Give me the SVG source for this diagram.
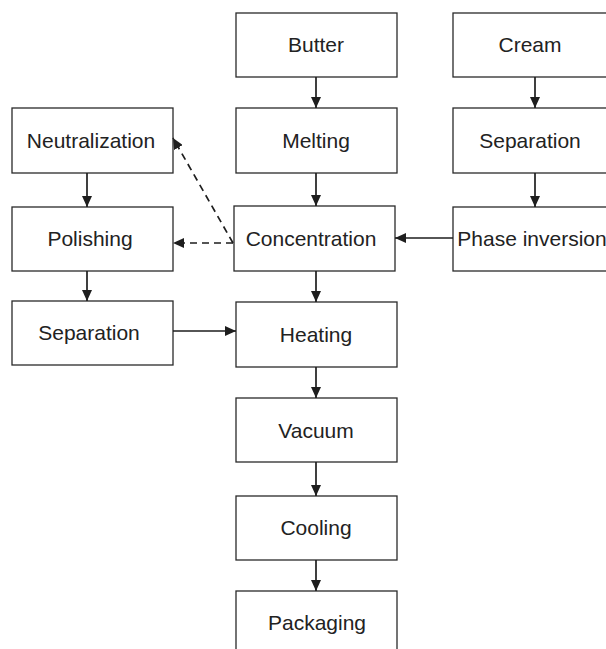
<svg xmlns="http://www.w3.org/2000/svg" width="606" height="649" viewBox="0 0 606 649">
  <defs>
    <style>
      .box { fill: #ffffff; stroke: #2a2a2a; stroke-width: 1.3; }
      .lbl { font-family: "Liberation Sans", Arial, sans-serif; font-size: 21px; fill: #222222; text-anchor: middle; }
      .flow { fill: none; stroke: #1e1e1e; stroke-width: 1.7; marker-end: url(#head); }
      .dash { stroke-dasharray: 7 5; }
    </style>
    <marker id="head" viewBox="0 0 11 10" refX="11" refY="5" markerWidth="11" markerHeight="10" markerUnits="userSpaceOnUse" orient="auto">
      <path d="M0,0 L11,5 L0,10 Z" fill="#1e1e1e"/>
    </marker>
  </defs>
  <rect width="606" height="649" fill="#ffffff"/>

  <!-- centre column -->
  <g id="butter"><rect class="box" x="236" y="13" width="161" height="64"/><text class="lbl" x="316" y="52">Butter</text></g>
  <g id="melting"><rect class="box" x="236" y="108" width="161" height="65"/><text class="lbl" x="316" y="148">Melting</text></g>
  <g id="concentration"><rect class="box" x="234" y="206" width="161" height="65"/><text class="lbl" x="311" y="246">Concentration</text></g>
  <g id="heating"><rect class="box" x="236" y="302" width="161" height="65"/><text class="lbl" x="316" y="342">Heating</text></g>
  <g id="vacuum"><rect class="box" x="236" y="398" width="161" height="64"/><text class="lbl" x="316" y="438">Vacuum</text></g>
  <g id="cooling"><rect class="box" x="236" y="496" width="161" height="64"/><text class="lbl" x="316" y="535">Cooling</text></g>
  <g id="packaging"><rect class="box" x="236" y="591" width="161" height="70"/><text class="lbl" x="317" y="630">Packaging</text></g>

  <!-- right column -->
  <g id="cream"><rect class="box" x="453" y="13" width="165" height="64"/><text class="lbl" x="530" y="52">Cream</text></g>
  <g id="separation-cream"><rect class="box" x="453" y="108" width="165" height="65"/><text class="lbl" x="530" y="148">Separation</text></g>
  <g id="phase-inversion"><rect class="box" x="453" y="207" width="165" height="64"/><text class="lbl" x="532" y="246">Phase inversion</text></g>

  <!-- left column -->
  <g id="neutralization"><rect class="box" x="12" y="108" width="161" height="65"/><text class="lbl" x="91" y="148">Neutralization</text></g>
  <g id="polishing"><rect class="box" x="12" y="207" width="161" height="64"/><text class="lbl" x="90" y="246">Polishing</text></g>
  <g id="separation-oil"><rect class="box" x="12" y="301" width="161" height="64"/><text class="lbl" x="89" y="340">Separation</text></g>

  <g id="connectors">
    <line class="flow" x1="316" y1="77" x2="316" y2="108"/>
    <line class="flow" x1="316" y1="173" x2="316" y2="206"/>
    <line class="flow" x1="316" y1="271" x2="316" y2="302"/>
    <line class="flow" x1="316" y1="367" x2="316" y2="398"/>
    <line class="flow" x1="316" y1="462" x2="316" y2="496"/>
    <line class="flow" x1="316" y1="560" x2="316" y2="591"/>
    <line class="flow" x1="535" y1="77" x2="535" y2="108"/>
    <line class="flow" x1="535" y1="173" x2="535" y2="207"/>
    <line class="flow" x1="453" y1="238" x2="395" y2="238"/>
    <line class="flow" x1="87" y1="173" x2="87" y2="207"/>
    <line class="flow" x1="87" y1="271" x2="87" y2="301"/>
    <line class="flow" x1="173" y1="331" x2="236" y2="331"/>
    <line class="flow dash" x1="233" y1="243" x2="173" y2="243"/>
    <line class="flow dash" x1="233" y1="243" x2="173" y2="138"/>
  </g>
</svg>
